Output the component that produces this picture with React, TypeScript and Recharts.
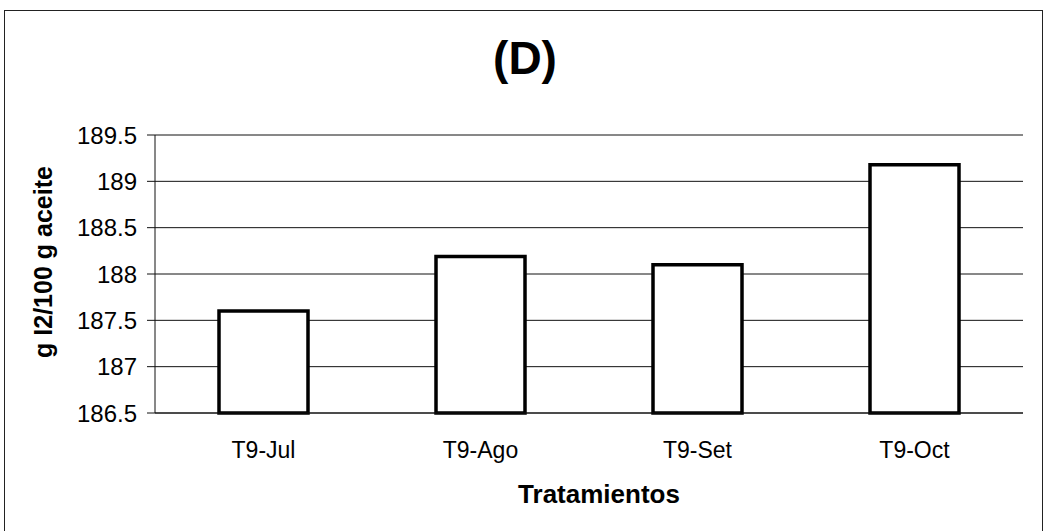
import React from 'react';
import { BarChart, Bar, XAxis, YAxis, CartesianGrid, Label } from 'recharts';

const categories = ['T9-Jul', 'T9-Ago', 'T9-Set', 'T9-Oct'];
const values = [187.6, 188.19, 188.1, 189.18];
const yTicks = [186.5, 187, 187.5, 188, 188.5, 189, 189.5];

const chartData = categories.map((name, i) => ({ name, value: values[i] }));

const FONT = '"Liberation Sans", Arial, sans-serif';

const formatTick = (v: number) => (Number.isInteger(v) ? String(v) : v.toFixed(1));

const App: React.FC = () => {
  return (
    <div style={{ position: 'absolute', left: 0, top: 0, width: 1049, height: 531, background: '#fff', overflow: 'hidden', fontFamily: FONT }}>
      {/* marco exterior */}
      <div style={{ position: 'absolute', left: 4, top: 10, width: 1039, height: 540, border: '1px solid #222', boxSizing: 'border-box' }} />
      <div style={{ position: 'absolute', left: 0, top: 33, width: 1050, textAlign: 'center', fontSize: 46, fontWeight: 'bold', color: '#000', lineHeight: '50px' }}>
        (D)
      </div>
      <BarChart
        width={1049}
        height={531}
        data={chartData}
        margin={{ top: 135, right: 26, left: 0, bottom: 0 }}
        barSize={89}
        style={{ position: 'absolute', left: 0, top: 0 }}
      >
        <CartesianGrid vertical={false} stroke="#111" strokeWidth={1} />
        <XAxis
          dataKey="name"
          height={118}
          axisLine={{ stroke: '#111' }}
          tickLine={false}
          tickSize={0}
          tickMargin={29}
          tick={{ fontSize: 23, fill: '#000', fontFamily: FONT }}
        >
          <Label
            content={() => (
              <text x={599} y={503} textAnchor="middle" fontSize={26} fontWeight="bold" fill="#000" fontFamily={FONT}>
                Tratamientos
              </text>
            )}
          />
        </XAxis>
        <YAxis
          width={155}
          domain={[186.5, 189.5]}
          ticks={yTicks}
          interval={0}
          tickFormatter={formatTick}
          axisLine={{ stroke: '#111' }}
          tickLine={{ stroke: '#111' }}
          tickSize={8}
          tickMargin={10}
          tick={{ fontSize: 24, fill: '#000', fontFamily: FONT }}
        >
          <Label
            content={() => (
              <text
                x={43}
                y={262}
                transform="rotate(-90 43 262)"
                textAnchor="middle"
                dominantBaseline="central"
                fontSize={25}
                fontWeight="bold"
                fill="#000"
                fontFamily={FONT}
              >
                g I2/100 g aceite
              </text>
            )}
          />
        </YAxis>
        <Bar dataKey="value" fill="#fff" stroke="#000" strokeWidth={3.5} isAnimationActive={false} />
      </BarChart>
    </div>
  );
};

export default App;
